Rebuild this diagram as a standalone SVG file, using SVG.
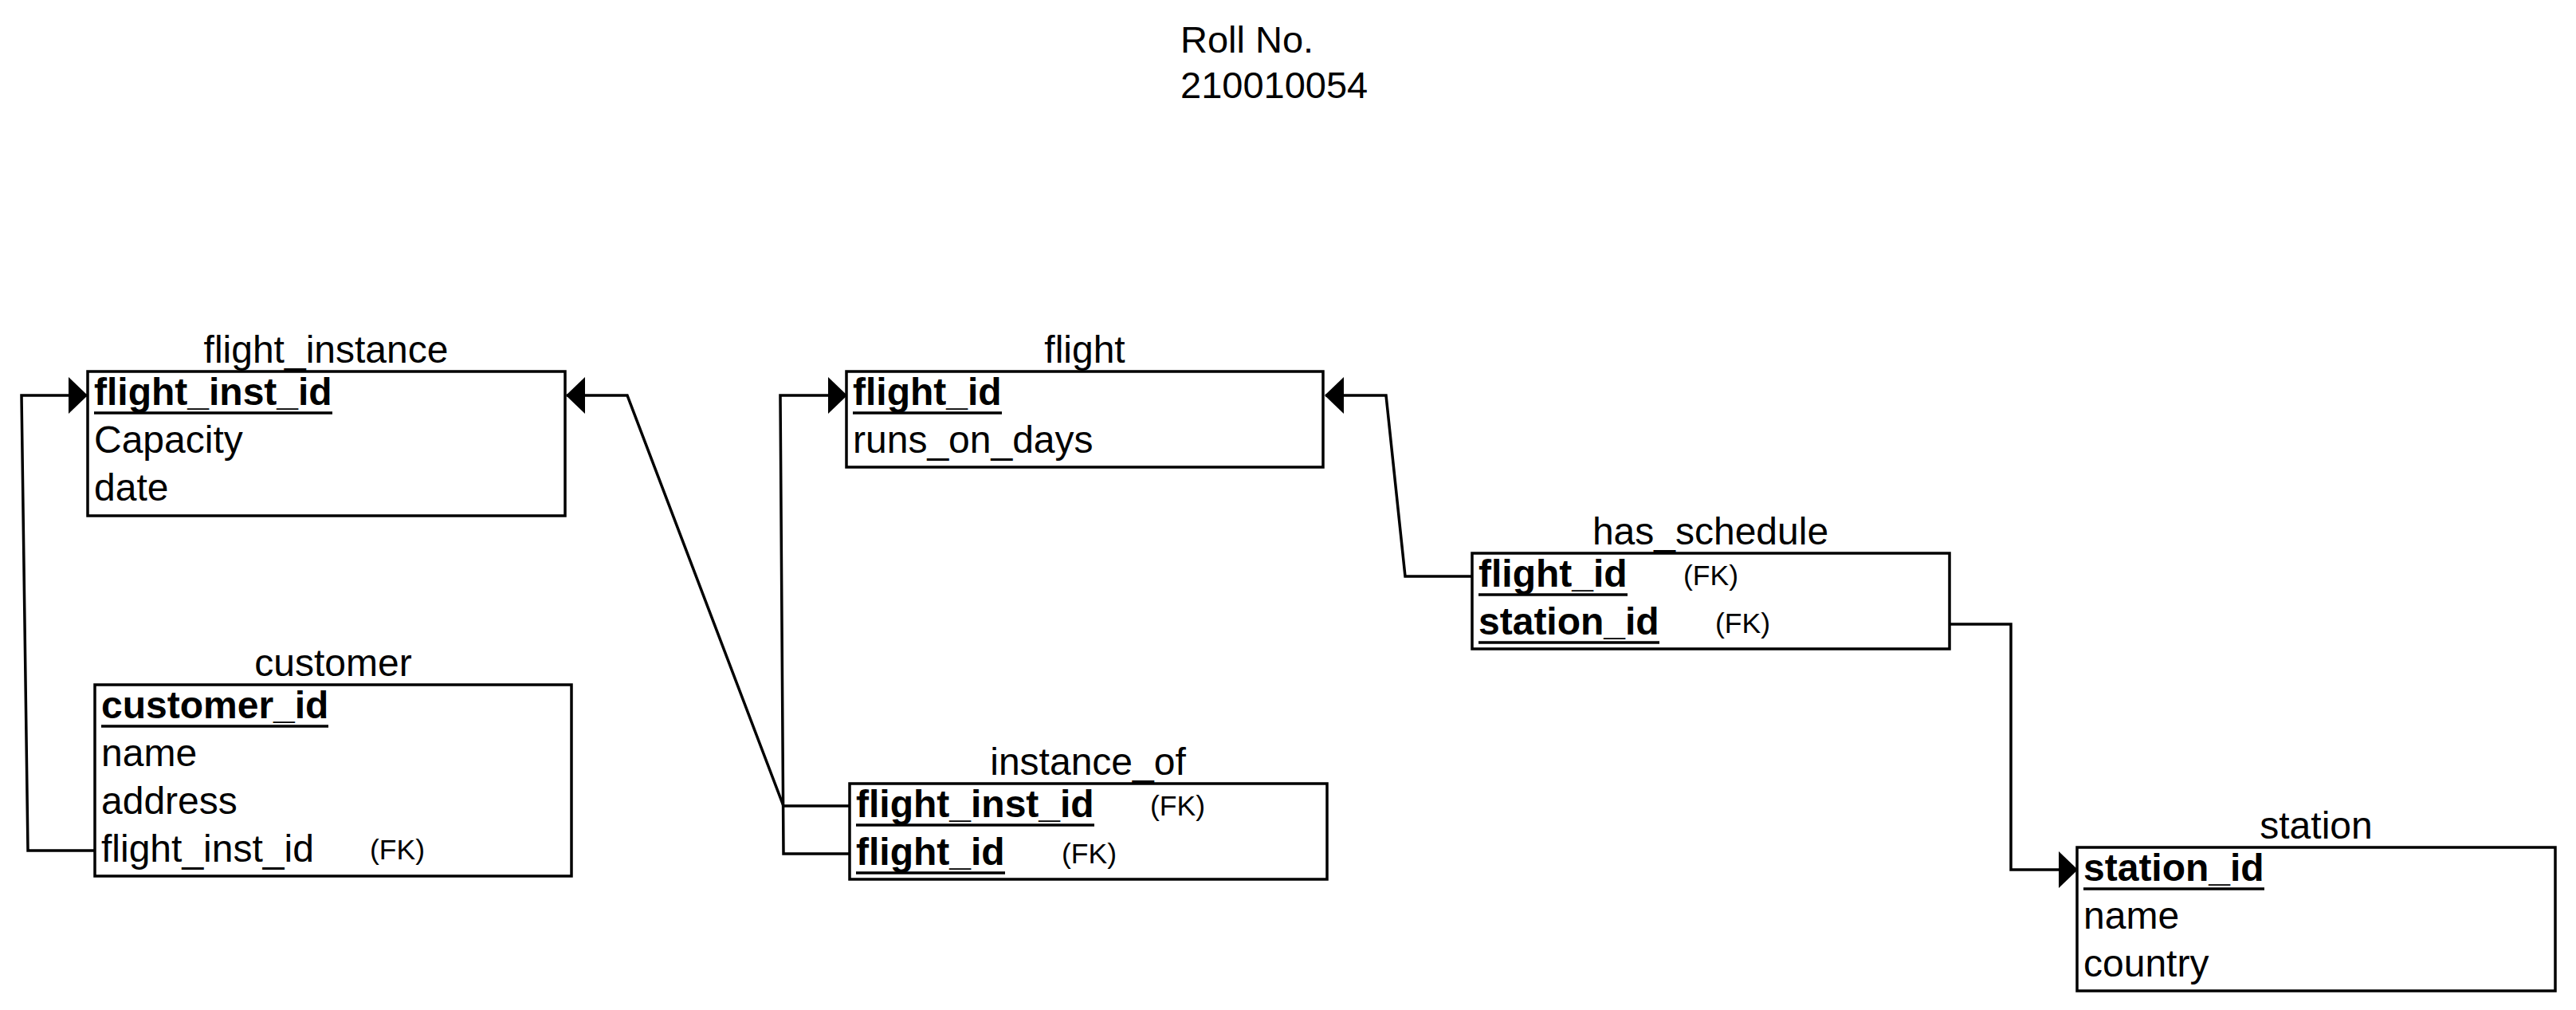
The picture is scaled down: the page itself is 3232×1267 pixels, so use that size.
<svg xmlns="http://www.w3.org/2000/svg" width="3232" height="1267" viewBox="0 0 3232 1267">
<style>
text{font-family:"Liberation Sans",Arial,sans-serif;fill:#000}
.t{font-size:48px;text-anchor:middle}
.a{font-size:48px}
.pk{font-size:48px;font-weight:bold}
.fk{font-size:35.5px}
.roll{font-size:47px}
.box{fill:#fff;stroke:#000;stroke-width:3.5}
.ul{stroke:#000;stroke-width:3.5}
.c{fill:none;stroke:#000;stroke-width:3.5;marker-end:url(#arr)}
</style>
<defs>
<marker id="arr" viewBox="0 0 24 46" refX="23" refY="23" markerWidth="24" markerHeight="46" markerUnits="userSpaceOnUse" orient="auto">
<path d="M0,0 L24,23 L0,46 Z" fill="#000"/>
</marker>
</defs>
<rect width="3232" height="1267" fill="#fff"/>
<g id="title">
<text class="roll" x="1481" y="66">Roll No.</text>
<text class="roll" x="1481" y="123">210010054</text>
</g>
<g id="connectors">
<path class="c" d="M119,1067 L35,1067 L27,496 L109,496"/>
<path class="c" d="M1066,1011 L983,1011 L787,496 L711,496"/>
<path class="c" d="M1066,1071 L983,1071 L979,496 L1062,496"/>
<path class="c" d="M1847,723 L1763,723 L1739,496 L1663,496"/>
<path class="c" d="M2446,783 L2523,783 L2523,1091 L2606,1091"/>
</g>
<g id="flight_instance">
<text class="t" x="409" y="455">flight_instance</text>
<rect class="box" x="110" y="466" width="599" height="181"/>
<text class="pk" x="118" y="508">flight_inst_id</text>
<line class="ul" x1="118" y1="518" x2="417" y2="518"/>
<text class="a" x="118" y="568">Capacity</text>
<text class="a" x="118" y="628">date</text>
</g>
<g id="customer">
<text class="t" x="418" y="848">customer</text>
<rect class="box" x="119" y="859" width="598" height="240"/>
<text class="pk" x="127" y="901">customer_id</text>
<line class="ul" x1="127" y1="911" x2="412" y2="911"/>
<text class="a" x="127" y="961">name</text>
<text class="a" x="127" y="1021">address</text>
<text class="a" x="127" y="1081">flight_inst_id</text>
<text class="fk" x="464" y="1078">(FK)</text>
</g>
<g id="flight">
<text class="t" x="1361" y="455">flight</text>
<rect class="box" x="1062" y="466" width="598" height="120"/>
<text class="pk" x="1070" y="508">flight_id</text>
<line class="ul" x1="1070" y1="518" x2="1257" y2="518"/>
<text class="a" x="1070" y="568">runs_on_days</text>
</g>
<g id="instance_of">
<text class="t" x="1365" y="972">instance_of</text>
<rect class="box" x="1066" y="983" width="599" height="120"/>
<text class="pk" x="1074" y="1025">flight_inst_id</text>
<line class="ul" x1="1074" y1="1035" x2="1373" y2="1035"/>
<text class="fk" x="1443" y="1023">(FK)</text>
<text class="pk" x="1074" y="1085">flight_id</text>
<line class="ul" x1="1074" y1="1095" x2="1261" y2="1095"/>
<text class="fk" x="1332" y="1083">(FK)</text>
</g>
<g id="has_schedule">
<text class="t" x="2146" y="683">has_schedule</text>
<rect class="box" x="1847" y="694" width="599" height="120"/>
<text class="pk" x="1855" y="736">flight_id</text>
<line class="ul" x1="1855" y1="746" x2="2042" y2="746"/>
<text class="fk" x="2112" y="734">(FK)</text>
<text class="pk" x="1855" y="796">station_id</text>
<line class="ul" x1="1855" y1="806" x2="2082" y2="806"/>
<text class="fk" x="2152" y="794">(FK)</text>
</g>
<g id="station">
<text class="t" x="2906" y="1052">station</text>
<rect class="box" x="2606" y="1063" width="600" height="180"/>
<text class="pk" x="2614" y="1105">station_id</text>
<line class="ul" x1="2614" y1="1115" x2="2841" y2="1115"/>
<text class="a" x="2614" y="1165">name</text>
<text class="a" x="2614" y="1225">country</text>
</g>
</svg>
